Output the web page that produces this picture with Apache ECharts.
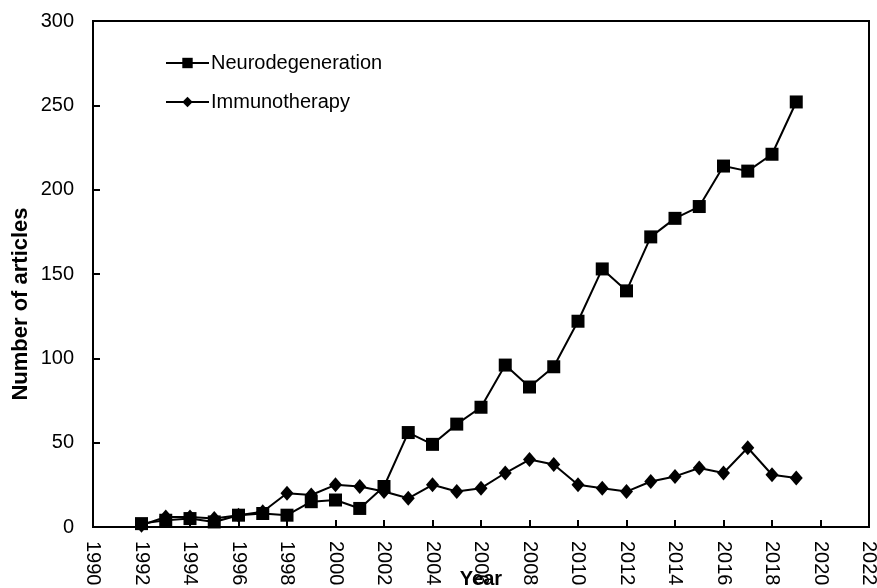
<!DOCTYPE html>
<html>
<head>
<meta charset="utf-8">
<script src="https://cdn.jsdelivr.net/npm/echarts@6/dist/echarts.min.js"></script>
<style>
  html, body { margin: 0; padding: 0; background: #fff; }
  #chart { width: 877px; height: 588px; }
</style>
</head>
<body>
<div id="chart"></div>
<script>
var years = [1992, 1993, 1994, 1995, 1996, 1997, 1998, 1999, 2000, 2001, 2002, 2003, 2004, 2005,
  2006, 2007, 2008, 2009, 2010, 2011, 2012, 2013, 2014, 2015, 2016, 2017, 2018, 2019];
var neuro = [2, 4, 5, 3, 7, 8, 7, 15, 16, 11, 24, 56, 49, 61,
  71, 96, 83, 95, 122, 153, 140, 172, 183, 190, 214, 211, 221, 252];
var immuno = [1, 6, 6, 5, 7, 9, 20, 19, 25, 24, 21, 17, 25, 21,
  23, 32, 40, 37, 25, 23, 21, 27, 30, 35, 32, 47, 31, 29];

var font = "'Liberation Sans', Arial, sans-serif";
var chart = echarts.init(document.getElementById('chart'));

function pairs(vals) {
  return years.map((y, i) => [y, vals[i]]);
}

var option = {
  animation: false,
  textStyle: { fontFamily: font, color: '#000' },
  grid: {
    left: 93, right: 8, top: 21, bottom: 61,
    outerBoundsMode: 'none',
    containLabel: false,
    show: true, borderColor: '#000', borderWidth: 2
  },
  legend: {
    orient: 'vertical',
    left: 160, top: 48,
    itemWidth: 43, itemHeight: 13,
    itemGap: 19,
    textStyle: { fontSize: 20, color: '#000', fontFamily: font, padding: [0, 0, 0, -3] },
    data: ['Neurodegeneration', 'Immunotherapy']
  },
  xAxis: {
    type: 'value',
    min: 1990, max: 2022, interval: 2,
    name: 'Year',
    nameLocation: 'middle',
    nameGap: 42,
    nameMoveOverlap: false,
    nameTextStyle: { fontSize: 20, fontWeight: 'bold', color: '#000', fontFamily: font },
    axisLine: { lineStyle: { color: '#000', width: 2 } },
    axisTick: { inside: true, length: 7, lineStyle: { color: '#000', width: 2 } },
    axisLabel: { rotate: -90, margin: 14, fontSize: 20, color: '#000', fontFamily: font,
      formatter: v => String(v) },
    splitLine: { show: false }
  },
  yAxis: {
    type: 'value',
    min: 0, max: 300, interval: 50,
    name: 'Number of articles',
    nameLocation: 'middle',
    nameGap: 61,
    nameMoveOverlap: false,
    nameTextStyle: { fontSize: 22, fontWeight: 'bold', color: '#000', fontFamily: font,
      padding: [0, 60, 0, 0] },
    axisLine: { show: true, lineStyle: { color: '#000', width: 2 } },
    axisTick: { show: true, inside: true, length: 7, lineStyle: { color: '#000', width: 2 } },
    axisLabel: { margin: 19, fontSize: 20, color: '#000', fontFamily: font },
    splitLine: { show: false }
  },
  series: [
    {
      name: 'Neurodegeneration',
      type: 'line',
      data: pairs(neuro),
      symbol: 'rect',
      symbolSize: 13,
      itemStyle: { color: '#000' },
      lineStyle: { color: '#000', width: 2 }
    },
    {
      name: 'Immunotherapy',
      type: 'line',
      data: pairs(immuno),
      symbol: 'diamond',
      symbolSize: [13, 15],
      itemStyle: { color: '#000' },
      lineStyle: { color: '#000', width: 2 }
    }
  ]
};
chart.setOption(option);
</script>
</body>
</html>
